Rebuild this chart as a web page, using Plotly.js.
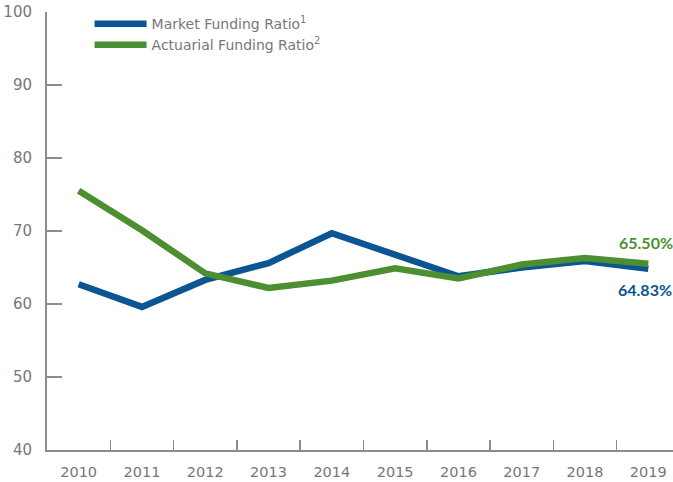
<!DOCTYPE html>
<html>
<head>
<meta charset="utf-8">
<script src="https://cdn.plot.ly/plotly-3.0.1.min.js"></script>
<style>html,body{margin:0;padding:0;background:#fff}#chart{width:673px;height:482px}</style>
</head>
<body>
<div id="chart"></div>
<script>
const years = ["2010","2011","2012","2013","2014","2015","2016","2017","2018","2019"];
const marketRatio = [62.7, 59.6, 63.3, 65.6, 69.7, 66.7, 63.8, 65.0, 65.9, 64.83];
const actuarialRatio = [75.5, 70.1, 64.2, 62.2, 63.2, 64.9, 63.5, 65.4, 66.3, 65.50];
const yTicks = [40, 50, 60, 70, 80, 90, 100];
const seriesNames = ["Market Funding Ratio<sup>1</sup>", "Actuarial Funding Ratio<sup>2</sup>"];
const endLabels = ["64.83%", "65.50%"];

const blue = "#0a5592";
const green = "#4b8f31";
const axisGray = "#8c8c8c";
const textGray = "#777777";
const FONT = "'DejaVu Sans', sans-serif";
const LABEL_FONT = "Lato, sans-serif";
const last = years.length - 1;

const traces = [
  {x: years, y: marketRatio, name: seriesNames[0], type: "scatter", mode: "lines",
   line: {color: blue, width: 6.5}, hoverinfo: "skip"},
  {x: years, y: actuarialRatio, name: seriesNames[1], type: "scatter", mode: "lines",
   line: {color: green, width: 6.5}, hoverinfo: "skip"}
];

const layout = {
  width: 673, height: 482,
  margin: {l: 47, r: 0, t: 12, b: 32, pad: 0},
  paper_bgcolor: "#fff", plot_bgcolor: "#fff",
  font: {family: FONT, color: textGray, size: 15},
  showlegend: true,
  legend: {
    x: 0.068, y: 1.009, xanchor: "left", yanchor: "top",
    bgcolor: "rgba(0,0,0,0)", font: {size: 14, color: textGray, family: FONT},
    itemwidth: 52, tracegroupgap: 0
  },
  xaxis: {
    type: "category", range: [-0.5, 9.39],
    showline: true, linecolor: axisGray, linewidth: 2,
    ticks: "inside", ticklen: 10, tickwidth: 1.5, tickcolor: axisGray,
    tickson: "boundaries", showgrid: false, zeroline: false,
    ticklabelstandoff: 8,
    tickfont: {size: 14.5, color: textGray}
  },
  yaxis: {
    range: [40, 100], tickvals: yTicks,
    showline: true, linecolor: axisGray, linewidth: 2,
    ticks: "inside", ticklen: 15, tickwidth: 1.5, tickcolor: axisGray,
    showgrid: false, zeroline: false,
    ticklabelstandoff: 10,
    tickfont: {size: 15, color: textGray}
  },
  annotations: [
    {x: last, y: marketRatio[last], text: "<b>" + endLabels[0] + "</b>", showarrow: false,
     xanchor: "left", yanchor: "middle", xshift: -32, yshift: -21,
     font: {size: 16, color: blue, family: LABEL_FONT}},
    {x: last, y: actuarialRatio[last], text: "<b>" + endLabels[1] + "</b>", showarrow: false,
     xanchor: "left", yanchor: "middle", xshift: -31, yshift: 21,
     font: {size: 16, color: green, family: LABEL_FONT}}
  ]
};

Plotly.newPlot("chart", traces, layout, {staticPlot: true, displayModeBar: false});
</script>
</body>
</html>
